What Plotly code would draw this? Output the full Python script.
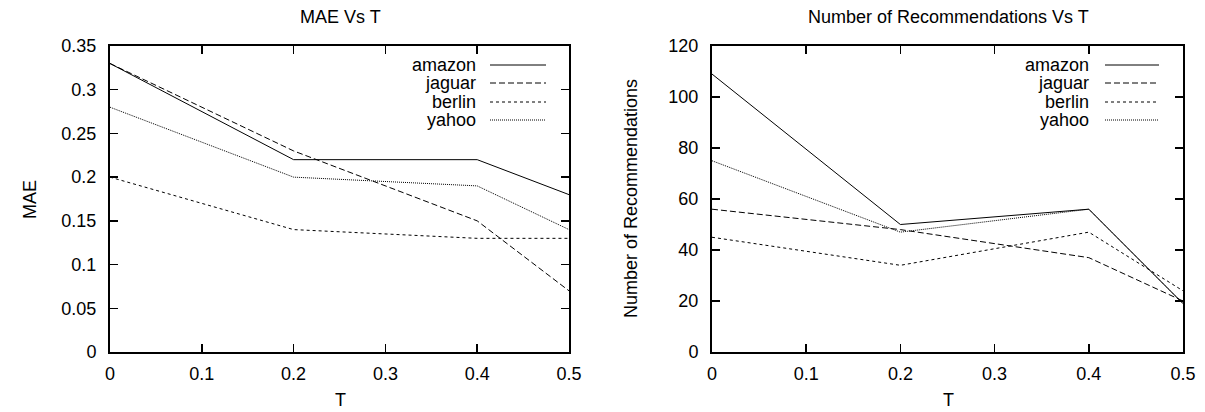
import plotly.graph_objects as go

T = [0, 0.2, 0.4, 0.5]
series = ["amazon", "jaguar", "berlin", "yahoo"]
mae_amazon = [0.33, 0.22, 0.22, 0.18]
mae_jaguar = [0.33, 0.23, 0.15, 0.07]
mae_berlin = [0.20, 0.14, 0.13, 0.13]
mae_yahoo = [0.28, 0.20, 0.19, 0.14]
rec_amazon = [109, 50, 56, 19]
rec_jaguar = [56, 48, 37, 20]
rec_berlin = [45, 34, 47, 24]
rec_yahoo = [75, 47, 56, 19]

dashes = {"amazon": "solid", "jaguar": "6px,3px", "berlin": "3px,3px", "yahoo": "1px,1px"}
mae = dict(zip(series, [mae_amazon, mae_jaguar, mae_berlin, mae_yahoo]))
rec = dict(zip(series, [rec_amazon, rec_jaguar, rec_berlin, rec_yahoo]))

FONT = "Liberation Sans, Arial, sans-serif"
FS = 18
W, H = 1205, 412

fig = go.Figure()
for s in series:
    fig.add_trace(go.Scatter(x=T, y=mae[s], mode="lines", name=s,
                             line=dict(color="black", width=1, dash=dashes[s]),
                             xaxis="x", yaxis="y", showlegend=False))
    fig.add_trace(go.Scatter(x=T, y=rec[s], mode="lines", name=s,
                             line=dict(color="black", width=1, dash=dashes[s]),
                             xaxis="x2", yaxis="y2", showlegend=False))

# custom legends (text right-aligned, sample on the right) like gnuplot
legend_cfg = [  # (text right edge px, line x0 px, line x1 px)
    (478, 490, 546),
    (1091, 1105, 1159),
]
legend_y = [65, 83, 102, 120]
annotations = []
shapes = []
for tx, lx0, lx1 in legend_cfg:
    for s, yy in zip(series, legend_y):
        annotations.append(dict(x=tx / W, y=1 - yy / H, xref="paper", yref="paper",
                                text=s, showarrow=False, xanchor="right", yanchor="middle",
                                font=dict(family=FONT, size=FS, color="black")))
        shapes.append(dict(type="line", xref="paper", yref="paper",
                           x0=lx0 / W, x1=lx1 / W, y0=1 - yy / H, y1=1 - yy / H,
                           line=dict(color="black", width=1, dash=dashes[s])))

def txt(x, y, text, angle=0):
    return dict(x=x / W, y=1 - y / H, xref="paper", yref="paper", text=text,
                showarrow=False, textangle=angle, xanchor="center", yanchor="middle",
                font=dict(family=FONT, size=FS, color="black"))

annotations += [
    txt(340, 17, "MAE Vs T"),
    txt(948, 17, "Number of Recommendations Vs T"),
    txt(340, 400, "T"),
    txt(948, 400, "T"),
    txt(30, 199, "MAE", -90),
    txt(631, 199, "Number of Recommendations", -90),
]

axis_common = dict(showline=True, linecolor="black", linewidth=2, mirror="ticks",
                   ticks="inside", ticklen=8, tickwidth=1.5, tickcolor="black",
                   showgrid=False, zeroline=False, automargin=False,
                   tickfont=dict(family=FONT, size=FS, color="black"))

yd = [(H - 352) / H, (H - 46) / H]
fig.update_layout(
    width=W, height=H,
    margin=dict(l=0, r=0, t=0, b=0),
    paper_bgcolor="white", plot_bgcolor="white",
    xaxis=dict(domain=[110 / W, 569 / W], range=[0, 0.5], dtick=0.1, anchor="y",
               ticklabelstandoff=4, **axis_common),
    yaxis=dict(domain=yd, range=[0, 0.35], dtick=0.05, anchor="x",
               ticklabelstandoff=8, **axis_common),
    xaxis2=dict(domain=[712 / W, 1183 / W], range=[0, 0.5], dtick=0.1, anchor="y2",
                ticklabelstandoff=4, **axis_common),
    yaxis2=dict(domain=yd, range=[0, 120], dtick=20, anchor="x2",
                ticklabelstandoff=8, **axis_common),
    annotations=annotations,
    shapes=shapes,
    showlegend=False,
    hovermode=False,
)

fig.write_html("out.html",
               config={"displayModeBar": False, "staticPlot": True},
               post_script="document.body.style.margin='0';document.body.style.overflow='hidden';")
